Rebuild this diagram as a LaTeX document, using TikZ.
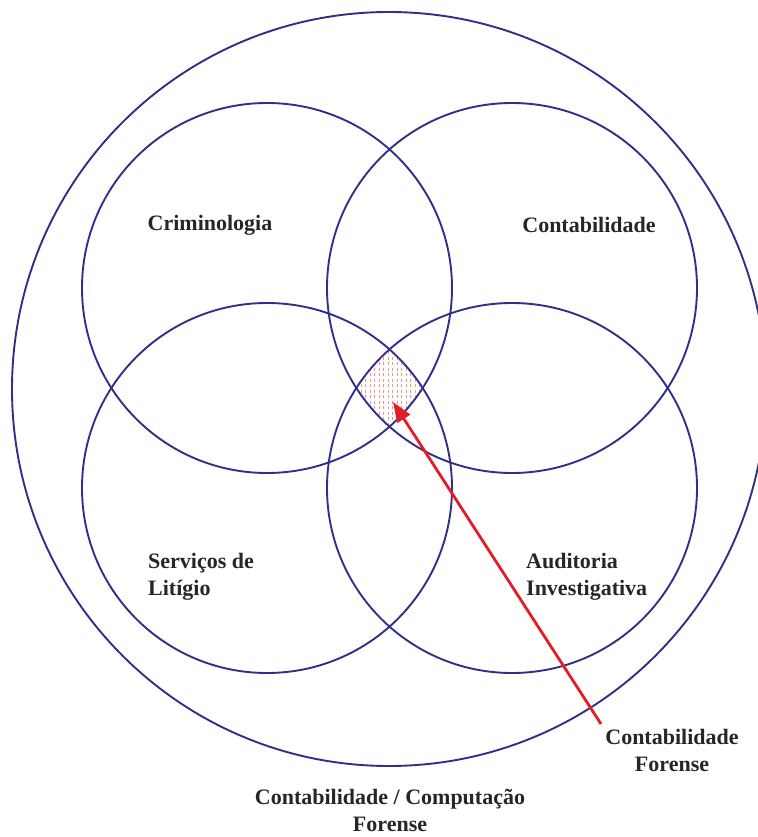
\documentclass[tikz,border=0pt]{standalone}
\usepackage{fontspec}
\setmainfont{Liberation Serif}
\usetikzlibrary{arrows.meta}
\definecolor{ringblue}{RGB}{48,48,138}
\definecolor{arrowred}{RGB}{228,28,36}
\definecolor{hatchred}{RGB}{240,150,140}
\tikzset{
  ring/.style={draw=ringblue, line width=1.9pt},
  lbl/.style={font=\fontsize{22}{27}\selectfont\bfseries, text=black!85, inner sep=0pt},
  pointer/.style={draw=arrowred, line width=2.8pt, -{Triangle[length=20pt,width=15pt]}}
}
\begin{document}
\begin{tikzpicture}[x=1pt,y=-1pt]
\useasboundingbox (0,0) rectangle (757,837);
% hatched intersection of the four circles
\begin{scope}
  \clip (267,288) circle[radius=185pt];
  \clip (512,288) circle[radius=185pt];
  \clip (267,488) circle[radius=185pt];
  \clip (512,488) circle[radius=185pt];
  \foreach \xx in {352,356.5,...,428}{
    \draw[hatchred, line width=0.6pt, dash pattern=on 3pt off 2.5pt] (\xx,340) -- (\xx,440);
  }
\end{scope}
% circles
\draw[ring] (389,389) circle[radius=377pt];
\draw[ring] (267,288) circle[radius=185pt];
\draw[ring] (512,288) circle[radius=185pt];
\draw[ring] (267,488) circle[radius=185pt];
\draw[ring] (512,488) circle[radius=185pt];
% labels
\node[lbl] (crim) at (210,225) {Criminologia};
\node[lbl] (cont) at (589,225) {Contabilidade};
\node[lbl, anchor=west, align=left] (serv) at (148,577) {Serviços de\\Litígio};
\node[lbl, anchor=west, align=left] (audi) at (526,577) {Auditoria\\Investigativa};
\node[lbl, align=center] (forense) at (672,750) {Contabilidade\\Forense};
\node[lbl, align=center] (comp) at (390,810) {Contabilidade / Computação\\Forense};
% arrow
\coordinate (astart) at (601,724);
\coordinate (atip) at (393,402);
\draw[pointer] (astart) -- (atip);
\end{tikzpicture}
\end{document}
